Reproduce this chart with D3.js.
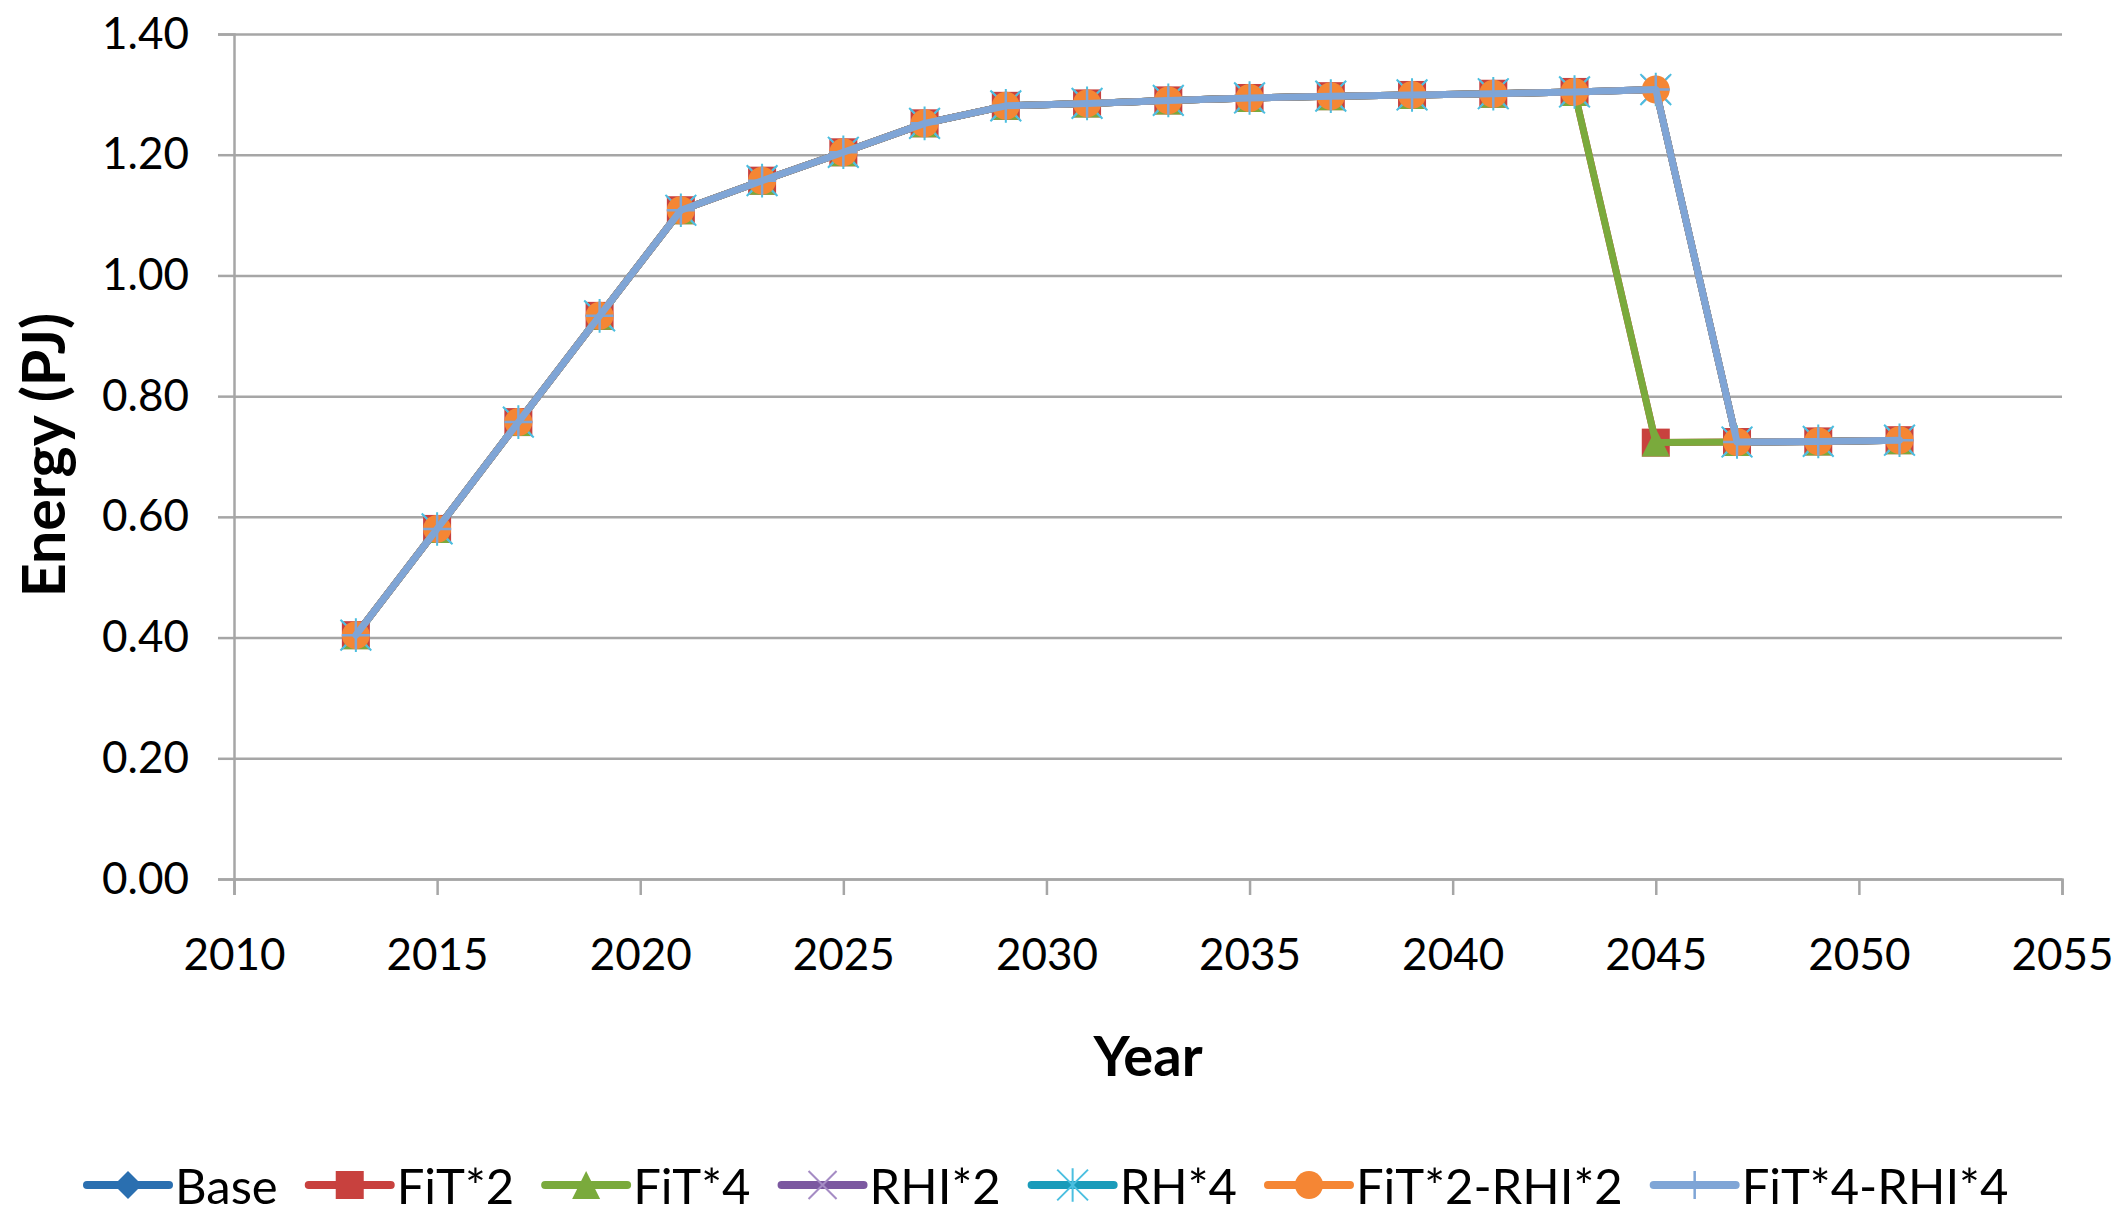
<!DOCTYPE html>
<html>
<head>
<meta charset="utf-8">
<script src="https://cdn.jsdelivr.net/npm/d3@7"></script>
<style>
  html, body { margin: 0; padding: 0; background: #fff; }
  svg { display: block; }
  text { font-family: Lato, "Open Sans", sans-serif; fill: #000; }
</style>
</head>
<body>
<svg id="chart" width="2126" height="1221"></svg>
<script>
// ---------------- DATA ----------------
const years = [2013, 2015, 2017, 2019, 2021, 2023, 2025, 2027, 2029, 2031, 2033, 2035, 2037, 2039, 2041, 2043, 2045, 2047, 2049, 2051];

const baseVals   = [0.404, 0.580, 0.757, 0.933, 1.108, 1.157, 1.204, 1.252, 1.281, 1.285, 1.290, 1.294, 1.297, 1.299, 1.301, 1.304, 1.308, 0.724, 0.725, 0.727];
const fit2Vals   = [0.404, 0.580, 0.757, 0.933, 1.108, 1.157, 1.204, 1.252, 1.281, 1.285, 1.290, 1.294, 1.297, 1.299, 1.301, 1.304, 0.723, 0.724, 0.725, 0.727];
const fit4Vals   = [0.404, 0.580, 0.757, 0.933, 1.108, 1.157, 1.204, 1.252, 1.281, 1.285, 1.290, 1.294, 1.297, 1.299, 1.301, 1.304, 0.723, 0.724, 0.725, 0.727];
const rhi2Vals   = [0.404, 0.580, 0.757, 0.933, 1.108, 1.157, 1.204, 1.252, 1.281, 1.285, 1.290, 1.294, 1.297, 1.299, 1.301, 1.304, 1.308, 0.724, 0.725, 0.727];
const rh4Vals    = [0.404, 0.580, 0.757, 0.933, 1.108, 1.157, 1.204, 1.252, 1.281, 1.285, 1.290, 1.294, 1.297, 1.299, 1.301, 1.304, 1.308, 0.724, 0.725, 0.727];
const fit2rhi2Vals = [0.404, 0.580, 0.757, 0.933, 1.108, 1.157, 1.204, 1.252, 1.281, 1.285, 1.290, 1.294, 1.297, 1.299, 1.301, 1.304, 1.308, 0.724, 0.725, 0.727];
const fit4rhi4Vals = [0.404, 0.580, 0.757, 0.933, 1.108, 1.157, 1.204, 1.252, 1.281, 1.285, 1.290, 1.294, 1.297, 1.299, 1.301, 1.304, 1.308, 0.724, 0.725, 0.727];

const seriesNames = ["Base", "FiT*2", "FiT*4", "RHI*2", "RH*4", "FiT*2-RHI*2", "FiT*4-RHI*4"];
const seriesValues = [baseVals, fit2Vals, fit4Vals, rhi2Vals, rh4Vals, fit2rhi2Vals, fit4rhi4Vals];

const xTicks = [2010, 2015, 2020, 2025, 2030, 2035, 2040, 2045, 2050, 2055];
const yTicks = [0, 0.2, 0.4, 0.6, 0.8, 1.0, 1.2, 1.4];

const xTitle = "Year";
const yTitle = "Energy (PJ)";

// ---------------- STYLE ----------------
const styles = [
  { color: "#2a6fb0", marker: "diamond", mcolor: "#2a6fb0" },
  { color: "#c8413e", marker: "square",  mcolor: "#c8413e" },
  { color: "#7aaa3c", marker: "triangle", mcolor: "#7aaa3c" },
  { color: "#7b58a0", marker: "x",       mcolor: "#a58cc4" },
  { color: "#1a9bba", marker: "star",    mcolor: "#4bbfe0" },
  { color: "#f58634", marker: "circle",  mcolor: "#f58634" },
  { color: "#7fa5d6", marker: "plus",    mcolor: "#7fa5d6" }
];

const svg = d3.select("#chart");
const plot = { left: 234, right: 2062, top: 34, bottom: 879 };

const x = d3.scaleLinear().domain([2010, 2055]).range([plot.left, plot.right]);
const y = d3.scaleLinear().domain([0, 1.4]).range([plot.bottom, plot.top]);

const gridColor = "#a6a6a6";

// gridlines + y ticks
const yAxis = d3.axisLeft(y).tickValues(yTicks).tickSize(16).tickFormat(d3.format(".2f")).tickPadding(29);
const gy = svg.append("g").attr("transform", `translate(${plot.left},0)`).call(yAxis);
gy.select(".domain").attr("stroke", gridColor).attr("stroke-width", 2.5);
gy.selectAll(".tick line").attr("stroke", gridColor).attr("stroke-width", 2.5);
gy.selectAll(".tick text").attr("font-size", 44).attr("font-family", "Lato").attr("fill", "#000");
gy.selectAll(".tick").append("line")
  .attr("x1", 0).attr("x2", plot.right - plot.left)
  .attr("stroke", gridColor).attr("stroke-width", 2.5);

// x axis
const xAxis = d3.axisBottom(x).tickValues(xTicks).tickSize(16).tickFormat(d3.format("d")).tickPadding(44);
const gx = svg.append("g").attr("transform", `translate(0,${plot.bottom})`).call(xAxis);
gx.select(".domain").attr("stroke", gridColor).attr("stroke-width", 2.5);
gx.selectAll(".tick line").attr("stroke", gridColor).attr("stroke-width", 2.5);
gx.selectAll(".tick text").attr("font-size", 44).attr("font-family", "Lato").attr("fill", "#000");

// axis titles
svg.append("text").attr("x", 1148).attr("y", 1054).attr("text-anchor", "middle")
  .attr("dominant-baseline", "central").attr("font-size", 56).attr("font-weight", "bold").text(xTitle);
svg.append("text").attr("transform", "translate(42,455) rotate(-90)").attr("text-anchor", "middle")
  .attr("dominant-baseline", "central").attr("font-size", 59).attr("font-weight", "bold").text(yTitle);

// marker drawing
function drawMarker(g, type, cx, cy, st, scale) {
  const s = 14 * scale;
  if (type === "diamond") {
    g.append("path").attr("d", `M${cx},${cy - s} L${cx + s},${cy} L${cx},${cy + s} L${cx - s},${cy} Z`).attr("fill", st.mcolor);
  } else if (type === "square") {
    g.append("rect").attr("x", cx - s).attr("y", cy - s).attr("width", 2 * s).attr("height", 2 * s).attr("fill", st.mcolor);
  } else if (type === "triangle") {
    g.append("path").attr("d", `M${cx},${cy - s} L${cx + s},${cy + s} L${cx - s},${cy + s} Z`).attr("fill", st.mcolor);
  } else if (type === "circle") {
    g.append("circle").attr("cx", cx).attr("cy", cy).attr("r", s).attr("fill", st.mcolor);
  } else if (type === "x") {
    g.append("path").attr("d", `M${cx - s},${cy - s} L${cx + s},${cy + s} M${cx + s},${cy - s} L${cx - s},${cy + s}`)
      .attr("stroke", st.mcolor).attr("stroke-width", 2);
  } else if (type === "star") {
    const d = s * 1.1;
    g.append("path").attr("d", `M${cx - d},${cy - d} L${cx + d},${cy + d} M${cx + d},${cy - d} L${cx - d},${cy + d} M${cx},${cy - s * 1.2} L${cx},${cy + s * 1.2}`)
      .attr("stroke", st.mcolor).attr("stroke-width", 2);
  } else if (type === "plus") {
    g.append("path").attr("d", `M${cx - s},${cy} L${cx + s},${cy} M${cx},${cy - s} L${cx},${cy + s}`)
      .attr("stroke", st.mcolor).attr("stroke-width", 2.5);
  }
}

// series
const line = d3.line().defined(d => d[1] != null).x(d => x(d[0])).y(d => y(d[1]));
seriesValues.forEach((vals, i) => {
  const st = styles[i];
  const pts = years.map((yr, j) => [yr, vals[j]]);
  const g = svg.append("g");
  g.append("path").datum(pts).attr("d", line).attr("fill", "none")
    .attr("stroke", st.color).attr("stroke-width", 7).attr("stroke-linejoin", "round").attr("stroke-linecap", "round");
  pts.filter(p => p[1] != null).forEach(p => drawMarker(g, st.marker, x(p[0]), y(p[1]), st, 1));
});

// legend
const legY = 1185;
let lx = 87;
const lg = svg.append("g");
seriesNames.forEach((name, i) => {
  const st = styles[i];
  lg.append("line").attr("x1", lx).attr("x2", lx + 82).attr("y1", legY).attr("y2", legY)
    .attr("stroke", st.color).attr("stroke-width", 8).attr("stroke-linecap", "round");
  drawMarker(lg, st.marker, lx + 41, legY, st, 1);
  const t = lg.append("text").attr("x", lx + 88).attr("y", legY).attr("dominant-baseline", "central")
    .attr("font-size", 49).text(name);
  const w = t.node().getComputedTextLength();
  lx = lx + 88 + w + 31;
});
</script>
</body>
</html>
